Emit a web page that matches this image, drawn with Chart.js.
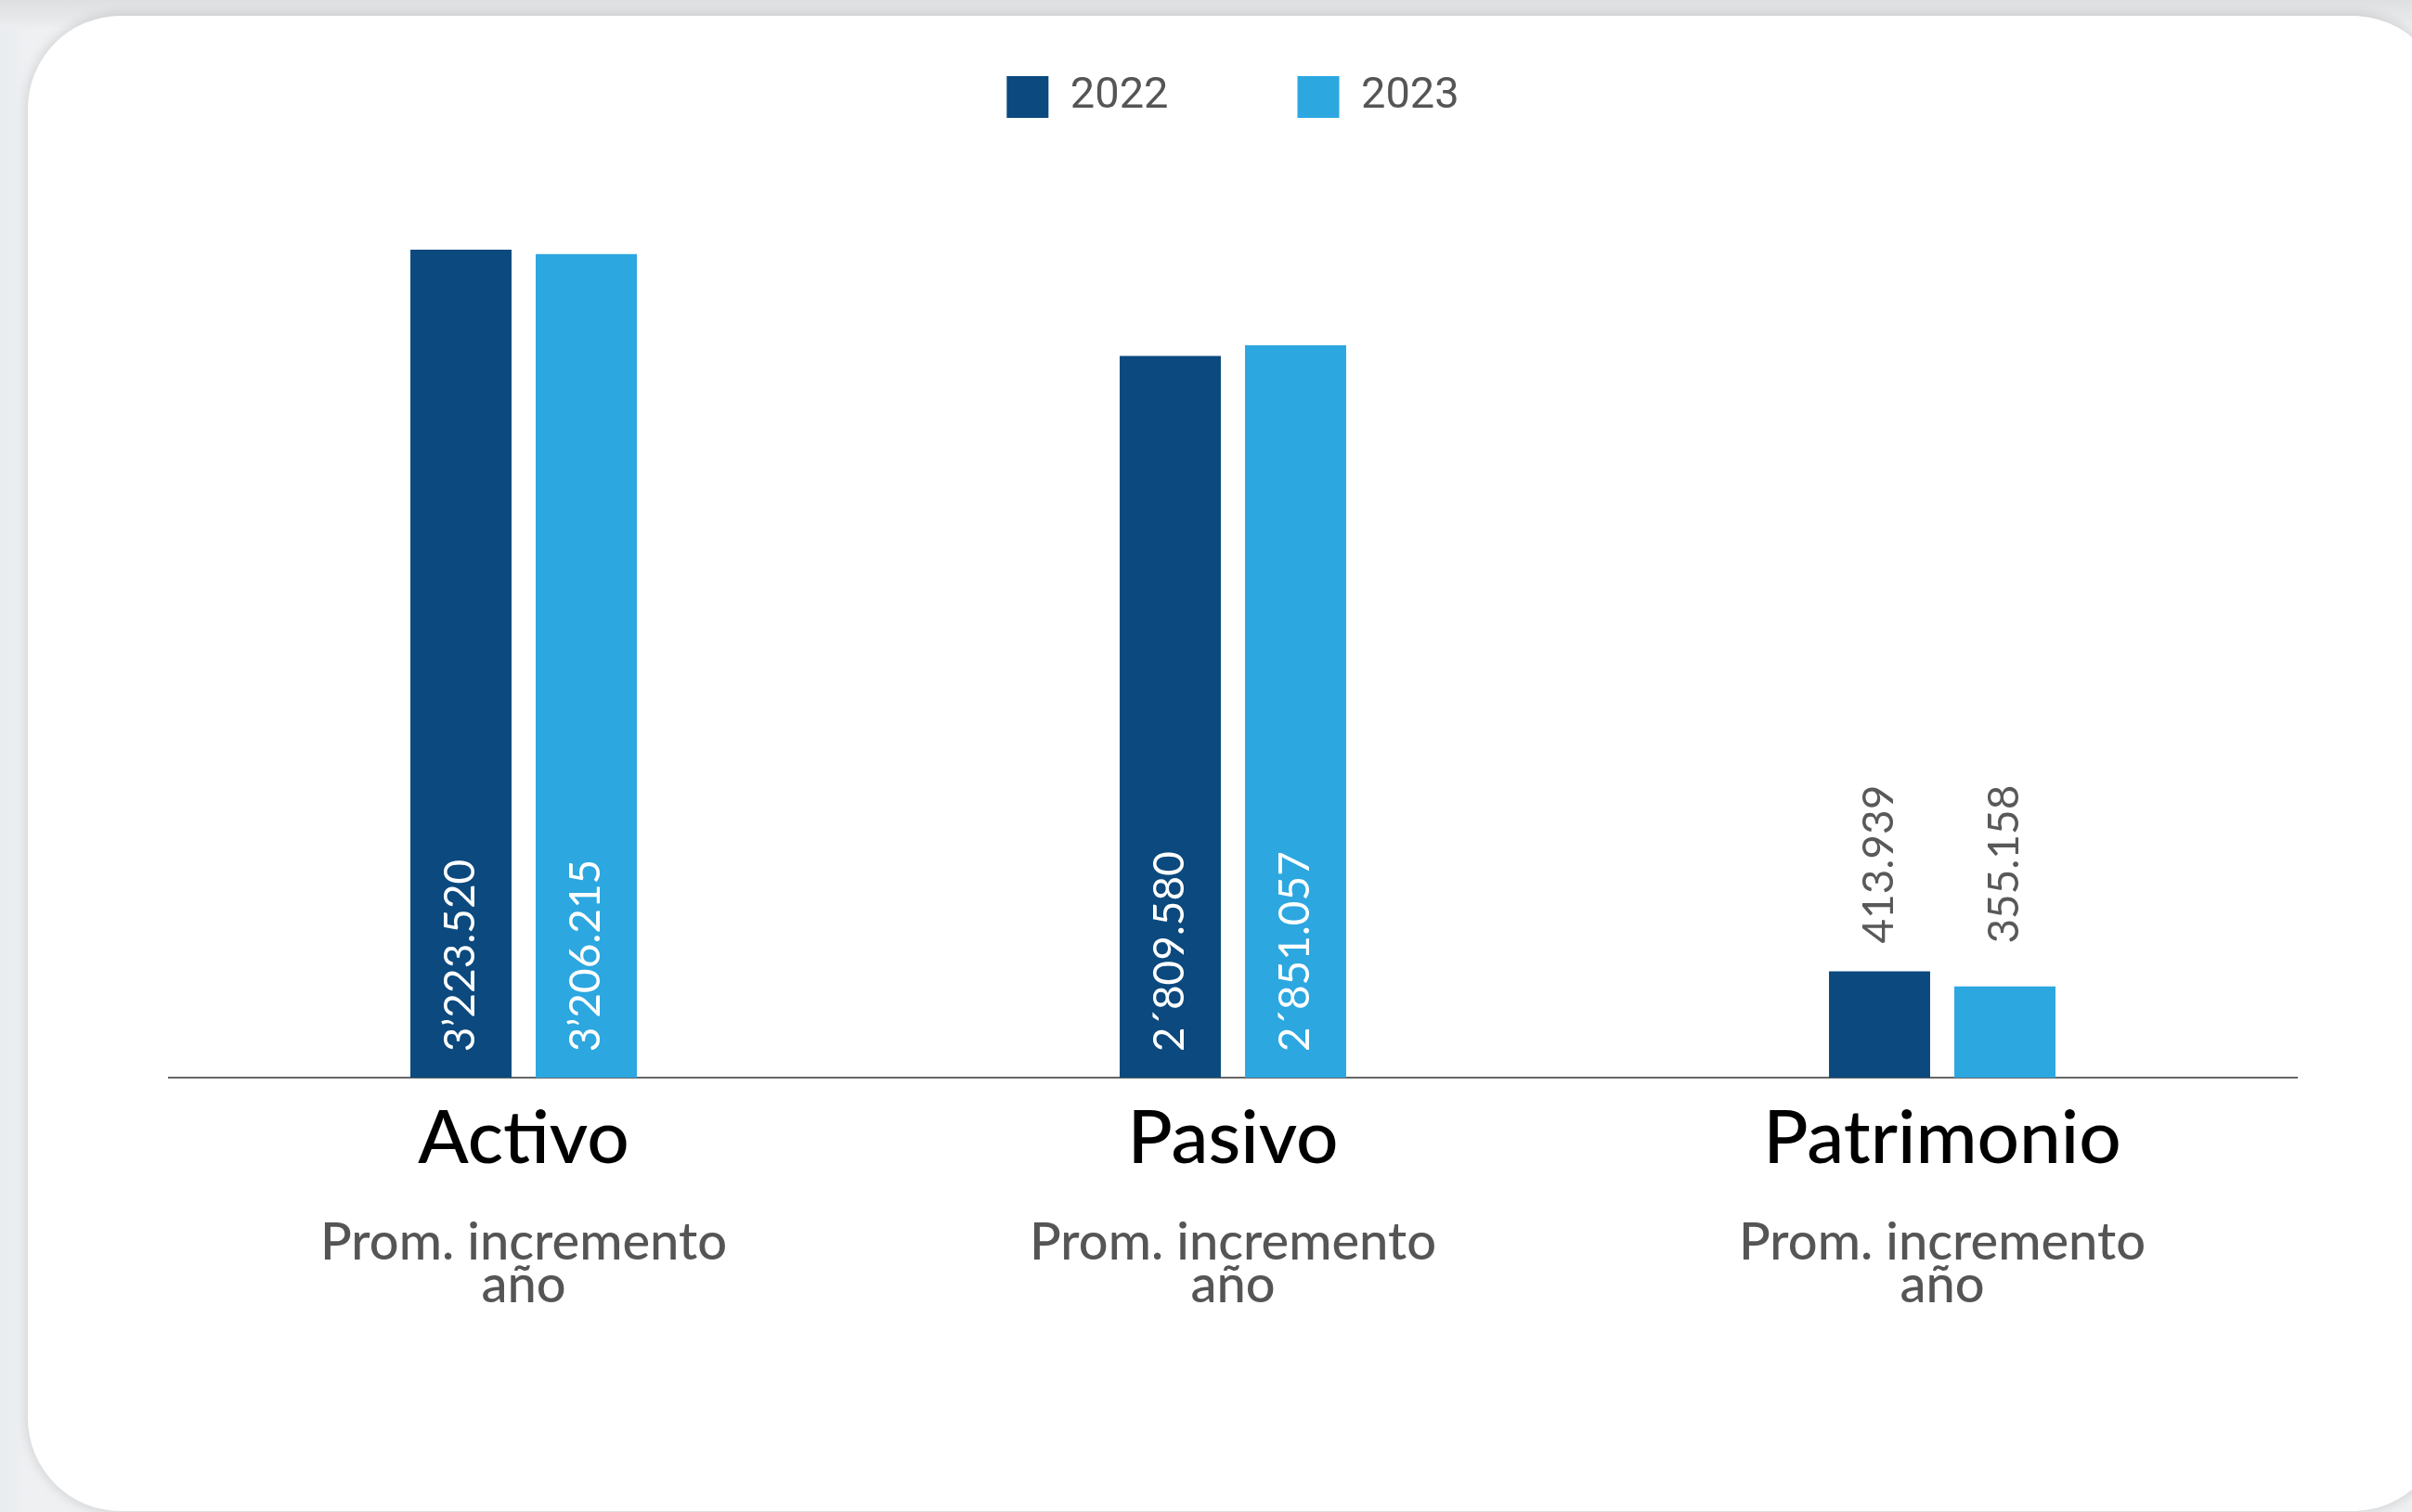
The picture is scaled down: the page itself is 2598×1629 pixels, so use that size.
<!DOCTYPE html>
<html>
<head>
<meta charset="utf-8">
<script src="https://cdn.jsdelivr.net/npm/chart.js@4/dist/chart.umd.min.js"></script>
<style>
  html, body { margin: 0; padding: 0; }
  body { width: 2598px; height: 1629px; overflow: hidden; position: relative;
         background: linear-gradient(90deg, #e9edf0 0px, #eef0f2 30px); }
  #topband { position: absolute; left: 0; top: 0; width: 2598px; height: 30px;
             background: linear-gradient(180deg, #dedfe0 0px, #e6e7e8 17px, #eceeef 30px); }
  #card { position: absolute; left: 30px; top: 17px; width: 2604px; height: 1611px;
          background: #ffffff; border-radius: 100px;
          box-shadow: 0 0 14px rgba(0,0,0,0.16); }
  #wrap { position: absolute; left: 0; top: 0; width: 2598px; height: 1629px; }
</style>
</head>
<body>
<div id="topband"></div>
<div id="card"></div>
<div id="wrap"><canvas id="chart"></canvas></div>
<script>
// ---- data ----
const categories = ['Activo', 'Pasivo', 'Patrimonio'];
const subLabels = [['Prom. incremento', 'año'], ['Prom. incremento', 'año'], ['Prom. incremento', 'año']];
const seriesNames = ['2022', '2023'];
const values2022 = [3223520, 2809580, 413939];
const values2023 = [3206215, 2851057, 355158];
const millionSeparators = ['\u2019', '\u00B4', '\u2019'];
const seriesColors = ['#0B497E', '#2CA7E0'];

function pad3(n) { return String(n).padStart(3, '0'); }
function formatValue(v, i) {
  const units = v % 1000;
  const thousands = Math.floor(v / 1000) % 1000;
  const millions = Math.floor(v / 1000000);
  if (millions > 0) return millions + millionSeparators[i] + pad3(thousands) + '.' + pad3(units);
  return thousands + '.' + pad3(units);
}

const valueLabels = {
  id: 'valueLabels',
  afterDatasetsDraw(chart) {
    const ctx = chart.ctx;
    const n = chart.data.labels.length;
    for (let i = 0; i < n; i++) {
      let groupTop = Infinity;
      chart.data.datasets.forEach((ds, d) => {
        const el = chart.getDatasetMeta(d).data[i];
        groupTop = Math.min(groupTop, el.y);
      });
      chart.data.datasets.forEach((ds, d) => {
        const el = chart.getDatasetMeta(d).data[i];
        const text = formatValue(ds.data[i], i);
        ctx.save();
        ctx.font = '400 46px Lato';
        const w = ctx.measureText(text).width;
        const inside = (el.base - el.y) > w + 80;
        ctx.fillStyle = inside ? '#ffffff' : '#595959';
        const startY = inside ? el.base - 28 : groupTop - 30;
        ctx.translate(el.x, startY);
        ctx.rotate(-Math.PI / 2);
        ctx.textAlign = 'left';
        ctx.textBaseline = 'middle';
        ctx.fillText(text, 0, 0);
        ctx.restore();
      });
    }
  }
};

new Chart(document.getElementById('chart'), {
  type: 'bar',
  data: {
    labels: categories,
    datasets: [
      { label: seriesNames[0], data: values2022, backgroundColor: seriesColors[0], borderColor: seriesColors[0], borderWidth: 0,
        categoryPercentage: 0.3534, barPercentage: 0.807 },
      { label: seriesNames[1], data: values2023, backgroundColor: seriesColors[1], borderColor: seriesColors[1], borderWidth: 0,
        categoryPercentage: 0.3534, barPercentage: 0.807 }
    ]
  },
  options: {
    responsive: true,
    maintainAspectRatio: false,
    animation: false,
    layout: { padding: { top: -58, left: 182, right: 124, bottom: 198 } },
    plugins: {
      legend: {
        display: true,
        position: 'top',
        labels: {
          boxWidth: 45, boxHeight: 45, padding: 139,
          color: '#555555',
          font: { family: 'Roboto', size: 47, weight: '400' }
        }
      },
      tooltip: { enabled: false }
    },
    scales: {
      y: { display: false, min: 0, max: 3696400 },
      x: {
        weight: 1,
        grid: { display: false, drawTicks: false },
        border: { display: true, color: '#666666', width: 2 },
        ticks: { padding: 26, maxRotation: 0, autoSkip: false, color: '#000000',
                 font: { family: 'Lato', size: 80, weight: '500', lineHeight: 1 } }
      },
      x2: {
        type: 'category',
        position: 'bottom',
        weight: 2,
        offset: true,
        labels: subLabels,
        grid: { display: false, drawTicks: false },
        border: { display: false },
        ticks: { padding: 23, maxRotation: 0, autoSkip: false, color: '#555555',
                 font: { family: 'Lato', size: 56, weight: '500', lineHeight: 0.82 } }
      }
    }
  },
  plugins: [valueLabels]
});
</script>
</body>
</html>
